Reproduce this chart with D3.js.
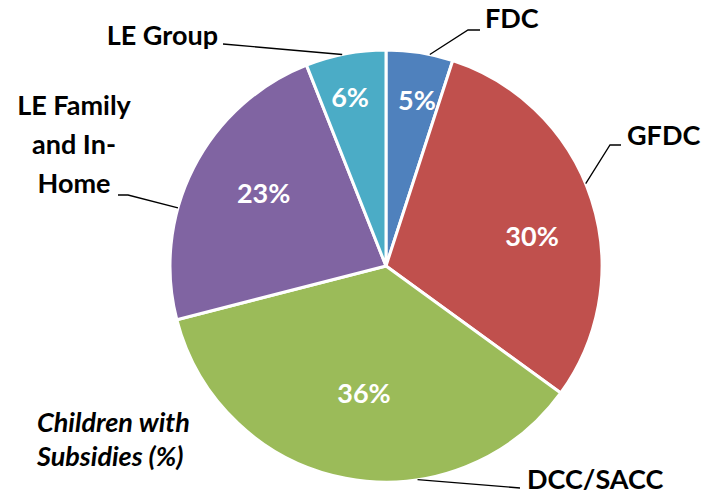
<!DOCTYPE html>
<html>
<head>
<meta charset="utf-8">
<script src="https://cdn.jsdelivr.net/npm/d3@7"></script>
<style>
  body { margin: 0; background: #fff; }
  svg text { font-family: Lato, "Open Sans", sans-serif; font-weight: bold; }
</style>
</head>
<body>
<svg id="chart"></svg>
<script>
// data (slices clockwise from 12 o'clock)
var categories = ["FDC", "GFDC", "DCC/SACC", "LE Family and In-Home", "LE Group"];
var shares = [5, 30, 36, 23, 6];
var colors = ["#4F81BD", "#C0504D", "#9BBB59", "#8064A2", "#4BACC6"];

var width = 712, height = 495;
var cx = 386, cy = 266, radius = 216;

var svg = d3.select("#chart")
    .attr("width", width)
    .attr("height", height);

var g = svg.append("g")
    .attr("transform", "translate(" + cx + "," + cy + ")");

var pie = d3.pie().sort(null).value(function(d) { return d; });
var arcs = pie(shares);

var arc = d3.arc().innerRadius(0).outerRadius(radius);

g.selectAll("path.slice")
    .data(arcs)
    .enter()
    .append("path")
    .attr("class", "slice")
    .attr("d", arc)
    .attr("fill", function(d, i) { return colors[i]; })
    .attr("stroke", "#fff")
    .attr("stroke-width", 3)
    .attr("stroke-linejoin", "round");

// where the % label sits inside each slice: radius fraction, angle shift (deg)
var pctPlace = [[0.78, 1.6], [0.69, 6.5], [0.60, -1.0], [0.66, 3.9], [0.80, -1.2]];

function pctPos(d, i) {
  var a = (d.startAngle + d.endAngle) / 2 + pctPlace[i][1] * Math.PI / 180;
  return d3.pointRadial(a, radius * pctPlace[i][0]);
}

g.selectAll("text.pct")
    .data(arcs)
    .enter()
    .append("text")
    .attr("class", "pct")
    .attr("x", function(d, i) { return pctPos(d, i)[0]; })
    .attr("y", function(d, i) { return pctPos(d, i)[1]; })
    .attr("text-anchor", "middle")
    .attr("dy", "0.36em")
    .attr("fill", "#fff")
    .style("font-size", "27px")
    .text(function(d) { return d.value + "%"; });

// outside category labels with leader lines (layout only)
var leaders = [
  { ang: 11.7, pts: [[468, 30], [480, 30]], tx: 485, ty: 28, anchor: "start", lines: ["FDC"] },
  { ang: 67.6, pts: [[610, 145], [621, 145]], tx: 627, ty: 145, anchor: "start", lines: ["GFDC"] },
  { ang: 171.6, pts: [[520, 488]], tx: 527, ty: 489, anchor: "start", lines: ["DCC/SACC"] },
  { ang: 285.6, pts: [[128, 195], [118, 195]], tx: 74, ty: 115, anchor: "middle", lines: ["LE Family", "and In-", "Home"] },
  { ang: 348.3, pts: [[223, 44]], tx: 218, ty: 45, anchor: "end", lines: ["LE Group"] }
];

leaders.forEach(function(L) {
  var p0 = d3.pointRadial(L.ang * Math.PI / 180, radius);
  var pts = [[cx + p0[0], cy + p0[1]]].concat(L.pts);
  svg.append("path")
      .attr("d", d3.line()(pts))
      .attr("fill", "none")
      .attr("stroke", "#000")
      .attr("stroke-width", 1.3);
  var t = svg.append("text")
      .attr("x", L.tx)
      .attr("y", L.ty)
      .attr("text-anchor", L.anchor)
      .attr("fill", "#000")
      .style("font-size", "27px");
  L.lines.forEach(function(s, j) {
    t.append("tspan").attr("x", L.tx).attr("dy", j === 0 ? 0 : 39).text(s);
  });
});

// chart title, bottom left
var title = svg.append("text")
    .attr("x", 37)
    .attr("y", 432)
    .attr("fill", "#000")
    .style("font-size", "27px")
    .style("font-style", "italic");
title.append("tspan").attr("x", 37).text("Children with");
title.append("tspan").attr("x", 37).attr("dy", 34).text("Subsidies (%)");
</script>
</body>
</html>
